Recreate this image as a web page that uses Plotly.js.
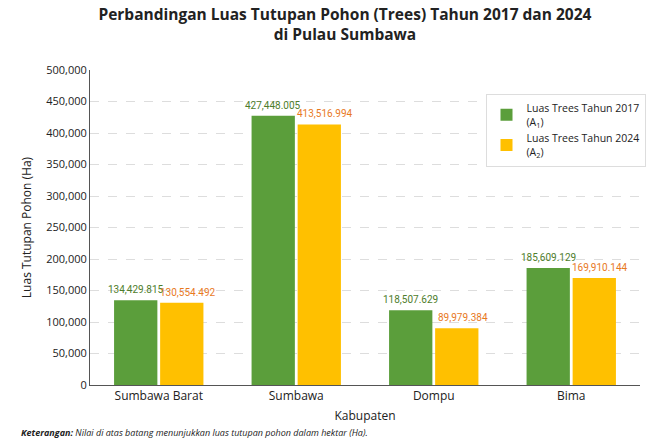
<!DOCTYPE html>
<html><head><meta charset="utf-8">
<script src="https://cdn.plot.ly/plotly-3.0.1.min.js"></script>
<style>body{margin:0;background:#fff}#c{width:657px;height:441px}</style>
</head><body><div id="c"></div>
<script>
const categories = ["Sumbawa Barat", "Sumbawa", "Dompu", "Bima"];
const trees2017 = [134429.815, 427448.005, 118507.629, 185609.129];
const trees2024 = [130554.492, 413516.994, 89979.384, 169910.144];
const labels2017 = ["134,429.815", "427,448.005", "118,507.629", "185,609.129"];
const labels2024 = ["130,554.492", "413,516.994", "89,979.384", "169,910.144"];
const seriesNames = ["Luas Trees Tahun 2017<br>(A<sub>1</sub>)", "Luas Trees Tahun 2024<br>(A<sub>2</sub>)"];
const yTicks = [0, 50000, 100000, 150000, 200000, 250000, 300000, 350000, 400000, 450000, 500000];

const fontFam = "Open Sans, Noto Sans, sans-serif";
const labelFam = "Roboto, sans-serif";
const traces = [
  {type:"bar", x:categories, y:trees2017, name:seriesNames[0],
   marker:{color:"#5b9e3b"}, hoverinfo:"none"},
  {type:"bar", x:categories, y:trees2024, name:seriesNames[1],
   marker:{color:"#ffc000"}, hoverinfo:"none"}
];
const valueAnns = [];
categories.forEach((c, i) => {
  valueAnns.push({x:c, y:trees2017[i], xref:"x", yref:"y", text:labels2017[i], showarrow:false,
    xanchor:"center", yanchor:"bottom", xshift:-23, yshift:3,
    font:{family:labelFam, size:10, color:"#4e7d2c"}});
  valueAnns.push({x:c, y:trees2024[i], xref:"x", yref:"y", text:labels2024[i], showarrow:false,
    xanchor:"center", yanchor:"bottom", xshift:29, yshift:3,
    font:{family:labelFam, size:10, color:"#e8791e"}});
});
const layout = {
  width:657, height:441,
  margin:{l:90, r:17, t:70, b:56, autoexpand:false},
  paper_bgcolor:"#fff", plot_bgcolor:"#fff",
  font:{family:fontFam, color:"#222"},
  title:{text:"<b>Perbandingan Luas Tutupan Pohon (Trees) Tahun 2017 dan 2024<br>di Pulau Sumbawa</b>",
         font:{size:15.5, color:"#222"}, x:0.525, xanchor:"center", y:0.955, yanchor:"top"},
  barmode:"group", bargap:0.33, bargroupgap:0.06,
  xaxis:{title:{text:"Kabupaten", font:{size:12, color:"#222"}, standoff:8},
         tickfont:{size:12, color:"#222"}, showline:true, linecolor:"#555", linewidth:1,
         ticks:"", showgrid:false},
  yaxis:{title:{text:"Luas Tutupan Pohon (Ha)", font:{size:12, color:"#222"}, standoff:12},
         range:[0,500000], tickvals:yTicks, tickformat:",d", tickfont:{size:11, color:"#222"},
         showline:true, linecolor:"#555", linewidth:1, ticks:"",
         showgrid:true, gridcolor:"#ddd", griddash:"dash", gridwidth:1, zeroline:false},
  legend:{x:1.01, y:0.925, xanchor:"right", yanchor:"top", bgcolor:"#fff",
          bordercolor:"#ddd", borderwidth:1, font:{size:10.5, color:"#222"}, tracegroupgap:6,
          itemwidth:30},
  showlegend:true,
  annotations:valueAnns.concat([{text:"<b><i>Keterangan:</i></b><i> Nilai di atas batang menunjukkan luas tutupan pohon dalam hektar (Ha).</i>",
    xref:"paper", yref:"paper", x:-0.13, y:-0.15, xanchor:"left", yanchor:"middle",
    showarrow:false, font:{size:9, color:"#222"}}])
};
Plotly.newPlot("c", traces, layout, {displayModeBar:false, staticPlot:true});
</script></body></html>
